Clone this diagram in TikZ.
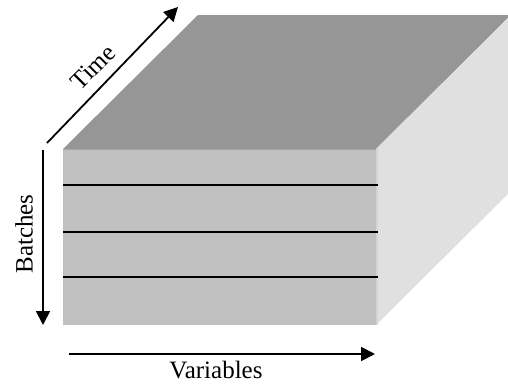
\documentclass[tikz,border=0pt]{standalone}
\usepackage{fontspec}
\setmainfont{Liberation Serif}
\usetikzlibrary{arrows.meta}
\definecolor{topgray}{HTML}{969696}
\definecolor{frontgray}{HTML}{C0C0C0}
\definecolor{sidegray}{HTML}{E0E0E0}
\tikzset{
  axis/.style={line width=1.8pt, -{Triangle[length=14pt,width=14pt]}},
  layer/.style={line width=1.6pt, black},
  axislabel/.style={font=\fontsize{25}{25}\selectfont, inner sep=0pt}
}
\begin{document}
\begin{tikzpicture}[x=1pt,y=-1pt]
\useasboundingbox (0,0) rectangle (508,383);
% block corners
\coordinate (fl) at (63,149);
\coordinate (fr) at (376,149);
\coordinate (bl) at (63,325);
\coordinate (br) at (376,325);
\coordinate (tl) at (198,15);
\coordinate (tr) at (511,15);
\coordinate (rb) at (511,191);
% faces
\fill[topgray] (fl) -- (tl) -- (tr) -- (fr) -- cycle;
\fill[sidegray] (fr) -- (tr) -- (rb) -- (br) -- cycle;
\fill[frontgray] (fl) rectangle (br);
\draw[line width=1pt, color=black!35] (fl) -- (fr);
\draw[line width=1.5pt, color=black!17] (377,149) -- (377,325);
% batch separators
\coordinate (l1a) at (63,185); \coordinate (l1b) at (378,185);
\coordinate (l2a) at (63,232); \coordinate (l2b) at (378,232);
\coordinate (l3a) at (63,277); \coordinate (l3b) at (378,277);
\draw[layer] (l1a) -- (l1b);
\draw[layer] (l2a) -- (l2b);
\draw[layer] (l3a) -- (l3b);
% axes
\coordinate (ts) at (47,143);
\coordinate (te) at (178,7);
\coordinate (bs) at (43,150);
\coordinate (be) at (43,325);
\coordinate (vs) at (69,354);
\coordinate (ve) at (375,354);
\draw[axis] (ts) -- (te);
\draw[axis] (bs) -- (be);
\draw[axis] (vs) -- (ve);
% labels
\node[axislabel, rotate=45] (timelabel) at (93,67) {Time};
\node[axislabel, rotate=90] (batchlabel) at (24,234) {Batches};
\node[axislabel] (varlabel) at (216,370) {Variables};
\end{tikzpicture}
\end{document}
